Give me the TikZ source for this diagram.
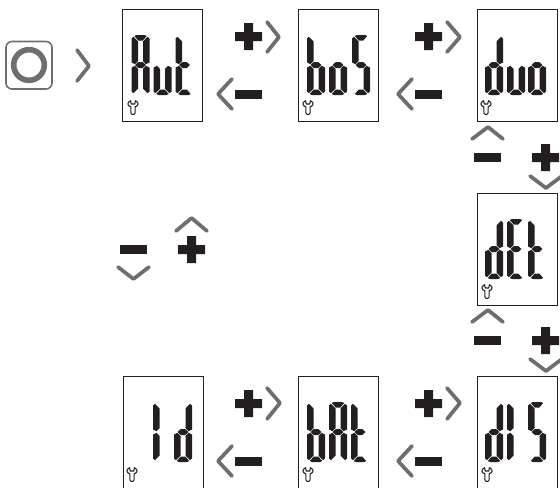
\documentclass[tikz,border=0pt]{standalone}
\usepackage{tikz}
\usetikzlibrary{calc}
\definecolor{lcdink}{HTML}{231F20}
\definecolor{chevgray}{HTML}{6D6E71}
\tikzset{
	screen/.style={draw=lcdink, line width=0.75pt, minimum width=60pt, minimum height=84pt, inner sep=0pt, outer sep=0pt},
	chev/.style={draw=chevgray, line width=2.8pt, line cap=round, line join=round},
	wrench/.style={draw=lcdink, line width=0.8pt, line join=round}
}
% lcd segments, one digit is 18 wide and 60 high
\def\sega{(2.8,1) -- (5,0) -- (13,0) -- (15.2,1) -- (11.3,5.5) -- (6.7,5.5) -- cycle}
\def\segb{(18,3.5) -- (16,1.8) -- (11.5,6.5) -- (11.5,26) -- (14.5,29.2) -- (18,27.5) -- cycle}
\def\segc{(18,32.5) -- (14.5,30.8) -- (11.5,34) -- (11.5,53.5) -- (16,58.2) -- (18,56.5) -- cycle}
\def\segd{(2.8,59) -- (6.7,54.5) -- (11.3,54.5) -- (15.2,59) -- (13,60) -- (5,60) -- cycle}
\def\sege{(0,32.5) -- (3.5,30.8) -- (6.5,34) -- (6.5,53.5) -- (2,58.2) -- (0,56.5) -- cycle}
\def\segf{(0,3.5) -- (2,1.8) -- (6.5,6.5) -- (6.5,26) -- (3.5,29.2) -- (0,27.5) -- cycle}
\def\segg{(3.5,30) -- (6.8,27) -- (11.2,27) -- (14.5,30) -- (11.2,33) -- (6.8,33) -- cycle}
% which segments make a letter
\def\lcdA{a,b,c,e,f,g}
\def\lcdE{a,d,e,f,g}
\def\lcdI{e,f}
\def\lcdS{a,c,d,f,g}
\def\lcdb{c,d,e,f,g}
\def\lcdd{b,c,d,e,g}
\def\lcdo{c,d,e,g}
\def\lcdt{d,e,f,g}
\def\lcdu{c,d,e}
\newcommand{\lcdchar}[2]{%
	\begin{scope}[shift={(#1,26)}]
		\edef\lcdlist{\csname lcd#2\endcsname}
		\foreach \s in \lcdlist {\fill[lcdink] \csname seg\s\endcsname;}
	\end{scope}}
\newcommand{\spanner}[1]{%
	\draw[wrench,shift={(#1,98.5)}] (-2.4,-6.8) .. controls (-6.5,-5) and (-5.5,-1.5) .. (-2.2,-0.8) -- (-2.2,5)
		.. controls (-2.2,7.6) and (2.2,7.6) .. (2.2,5) -- (2.2,-0.8)
		.. controls (5.5,-1.5) and (6.5,-5) .. (2.4,-6.8) -- (1.8,-3.5) -- (-1.8,-3.5) -- cycle;}
\newcommand{\plusmark}[2]{%
	\fill[lcdink,shift={(#1,#2)}] (-13.5,-4.5) rectangle (13.5,4.5) (-4.5,-13.5) rectangle (4.5,13.5);}
\newcommand{\minusmark}[2]{%
	\fill[lcdink,shift={(#1,#2)}] (-13.5,-4.5) rectangle (13.5,4.5);}
\begin{document}
\begin{tikzpicture}[x=0.75pt,y=-0.75pt]
	\useasboundingbox (0,0) rectangle (560,487);
	% Power button
	\draw[chevgray, line width=1.2pt, rounded corners=4.5pt] (6,41.5) rectangle (52,89);
	\draw[chevgray, line width=4.2pt] (29,65) circle (15.3);
	\draw[chev] (77,50) -- (89,66) -- (77,81);

	% Top row
	\begin{scope}[shift={(122.5,9)}]
		\node[screen] (aut) at (40,56) {};
		\lcdchar{9}{A}
		\lcdchar{31}{u}
		\lcdchar{53}{t}
		\spanner{10.5}
	\end{scope}
	\begin{scope}[shift={(298,9)}]
		\node[screen] (bos) at (40,56) {};
		\lcdchar{9}{b}
		\lcdchar{31}{o}
		\lcdchar{54}{S}
		\spanner{10}
	\end{scope}
	\begin{scope}[shift={(477,9)}]
		\node[screen] (duo) at (40,56) {};
		\lcdchar{8}{d}
		\lcdchar{30}{u}
		\lcdchar{51}{o}
		\spanner{9}
	\end{scope}
	\plusmark{248.5}{36.5}
	\minusmark{248.5}{94.5}
	\draw[chev] (267,22) -- (279,37) -- (267,52);
	\draw[chev] (232,79) -- (218,94) -- (232,109);
	\plusmark{428.5}{36.5}
	\minusmark{428.5}{94.5}
	\draw[chev] (447,22) -- (460,37) -- (447,52);
	\draw[chev] (412,79) -- (398,94) -- (412,109);

	% Right column
	\draw[chev] (472,139) -- (488,127) -- (503,139);
	\minusmark{487.5}{157.5}
	\plusmark{545.5}{157.5}
	\draw[chev] (530,176) -- (546,188) -- (562,176);
	\begin{scope}[shift={(477,193)}]
		\node[screen] (det) at (40,56) {};
		\lcdchar{8}{d}
		\lcdchar{30}{E}
		\lcdchar{51}{t}
		\spanner{10}
	\end{scope}
	\draw[chev] (472,322) -- (488,310) -- (503,322);
	\minusmark{487.5}{340.5}
	\plusmark{545.5}{340.5}
	\draw[chev] (530,359) -- (546,371) -- (562,359);

	% Left column
	\minusmark{133.5}{249.5}
	\plusmark{191.5}{249.5}
	\draw[chev] (176,231) -- (191.5,218) -- (207,231);
	\draw[chev] (118,267) -- (133.5,279) -- (149,267);

	% Bottom row
	\begin{scope}[shift={(123,376)}]
		\node[screen] (ident) at (40,56) {};
		\lcdchar{30}{I}
		\lcdchar{51}{d}
		\spanner{9}
	\end{scope}
	\begin{scope}[shift={(298,376)}]
		\node[screen] (bat) at (40,56) {};
		\lcdchar{9}{b}
		\lcdchar{31}{A}
		\lcdchar{53}{t}
		\spanner{10}
	\end{scope}
	\begin{scope}[shift={(477,376)}]
		\node[screen] (dis) at (40,56) {};
		\lcdchar{8}{d}
		\lcdchar{30}{I}
		\lcdchar{51}{S}
		\spanner{10}
	\end{scope}
	\plusmark{248.5}{403.5}
	\minusmark{248.5}{461.5}
	\draw[chev] (267,388) -- (280,403) -- (267,419);
	\draw[chev] (232,446) -- (218,461) -- (232,476);
	\plusmark{428.5}{403.5}
	\minusmark{428.5}{461.5}
	\draw[chev] (447,388) -- (460,403) -- (447,419);
	\draw[chev] (412,446) -- (398,461) -- (412,476);
\end{tikzpicture}
\end{document}
